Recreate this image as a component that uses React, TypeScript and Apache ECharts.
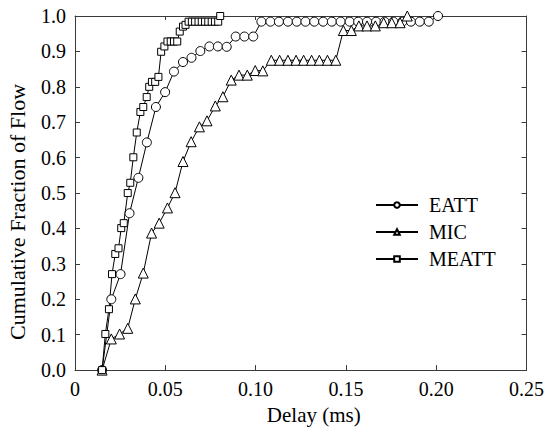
import React, { useEffect, useRef } from "react";
import * as echarts from "echarts";

const seriesNames = ["EATT", "MIC", "MEATT"];

const eattPoints: [number, number][] = [
  [0.015, 0.0], [0.0201, 0.2], [0.0252, 0.271], [0.0302, 0.443], [0.0351, 0.543],
  [0.0398, 0.643], [0.0448, 0.743], [0.0499, 0.785], [0.0548, 0.843], [0.0598, 0.87],
  [0.0645, 0.882], [0.0694, 0.901], [0.0744, 0.914], [0.0791, 0.914], [0.084, 0.913],
  [0.089, 0.942], [0.0938, 0.942], [0.0987, 0.942], [0.1032, 0.984], [0.1082, 0.984],
  [0.1129, 0.984], [0.1179, 0.984], [0.1228, 0.984], [0.1276, 0.984], [0.1325, 0.984],
  [0.1374, 0.984], [0.1422, 0.984], [0.1471, 0.984], [0.1521, 0.984], [0.1568, 0.984],
  [0.1617, 0.984], [0.1667, 0.984], [0.1714, 0.984], [0.1763, 0.984], [0.1813, 0.984],
  [0.186, 0.984], [0.1909, 0.984], [0.1959, 0.984], [0.201, 1.0],
];

const micPoints: [number, number][] = [
  [0.015, 0.0], [0.0201, 0.088], [0.0247, 0.102], [0.0292, 0.118], [0.0334, 0.201],
  [0.0378, 0.274], [0.0424, 0.387], [0.0466, 0.415], [0.0512, 0.458], [0.0554, 0.501],
  [0.0598, 0.589], [0.0643, 0.645], [0.0689, 0.687], [0.0731, 0.704], [0.0777, 0.746],
  [0.0819, 0.772], [0.0865, 0.819], [0.0908, 0.833], [0.0954, 0.833], [0.0998, 0.846],
  [0.104, 0.845], [0.1087, 0.875], [0.1133, 0.875], [0.1179, 0.875], [0.1224, 0.875],
  [0.1266, 0.875], [0.131, 0.875], [0.1353, 0.875], [0.1398, 0.875], [0.1444, 0.875],
  [0.1486, 0.959], [0.153, 0.959], [0.1572, 0.972], [0.1617, 0.972], [0.1663, 0.972],
  [0.1709, 0.981], [0.1754, 0.981], [0.18, 0.981], [0.184, 1.0],
];

const meattPoints: [number, number][] = [
  [0.015, 0.0], [0.0168, 0.102], [0.0188, 0.172], [0.0205, 0.271], [0.0223, 0.328],
  [0.0241, 0.344], [0.0256, 0.401], [0.027, 0.415], [0.0292, 0.5], [0.0306, 0.529],
  [0.0323, 0.601], [0.0342, 0.671], [0.0362, 0.729], [0.0378, 0.743], [0.0397, 0.771],
  [0.0411, 0.8], [0.0426, 0.814], [0.0444, 0.814], [0.0462, 0.828], [0.0477, 0.899],
  [0.0495, 0.914], [0.0512, 0.928], [0.053, 0.928], [0.0548, 0.928], [0.0566, 0.928],
  [0.058, 0.956], [0.0598, 0.97], [0.0612, 0.975], [0.0629, 0.984], [0.0647, 0.984],
  [0.0665, 0.984], [0.0684, 0.984], [0.0702, 0.984], [0.072, 0.984], [0.0738, 0.984],
  [0.0757, 0.984], [0.0775, 0.984], [0.0793, 0.984], [0.0804, 1.0],
];

const xTicks = [0, 0.05, 0.1, 0.15, 0.2, 0.25];
const yTicks = [0, 0.1, 0.2, 0.3, 0.4, 0.5, 0.6, 0.7, 0.8, 0.9, 1.0];

const FONT = "Liberation Serif";
const AXIS_COLOR = "#3a3a3a";

export default function App() {
  const ref = useRef<HTMLDivElement>(null);
  const ref2 = useRef<HTMLDivElement>(null);

  useEffect(() => {
    if (!ref.current || !ref2.current) return;
    const chart = echarts.init(ref.current, undefined, { renderer: "svg" });
    const spare = echarts.init(ref2.current, undefined, { renderer: "svg" });
    spare.setOption({ animation: false });

    const mkSeries = (name: string, data: [number, number][], symbol: string, size: number) => ({
      name,
      type: "line",
      data,
      symbol,
      symbolSize: size,
      showAllSymbol: true,
      lineStyle: { color: "#000", width: 1 },
      itemStyle: { color: "#fff", borderColor: "#000", borderWidth: 1 },
    });

    const baseX = {
      type: "value",
      min: xTicks[0],
      max: xTicks[xTicks.length - 1],
      interval: 0.05,
      splitLine: { show: false },
      axisLine: { show: true, onZero: false, lineStyle: { color: AXIS_COLOR, width: 1 } },
    };
    const baseY = {
      type: "value",
      min: yTicks[0],
      max: yTicks[yTicks.length - 1],
      interval: 0.1,
      splitLine: { show: false },
      axisLine: { show: true, onZero: false, lineStyle: { color: AXIS_COLOR, width: 1 } },
    };

    chart.setOption({
      animation: false,
      grid: { left: 75, right: 16, top: 16, bottom: 55, containLabel: false },
      legend: {
        data: seriesNames,
        orient: "vertical",
        left: 375,
        top: 195,
        padding: 0,
        itemWidth: 42,
        itemHeight: 7,
        itemGap: 7,
        textStyle: { fontFamily: FONT, fontSize: 20, color: "#000", padding: [0, 0, 0, 6] },
      },
      xAxis: [
        {
          ...baseX,
          position: "bottom",
          axisTick: { show: true, inside: true, length: 5, lineStyle: { color: AXIS_COLOR } },
          axisLabel: {
            show: true,
            margin: 9,
            fontFamily: FONT,
            fontSize: 20,
            color: "#000",
            formatter: (v: number) => (v === 0 ? "0" : v.toFixed(2)),
          },
          name: "Delay (ms)",
          nameLocation: "middle",
          nameGap: 26,
          nameTextStyle: { fontFamily: FONT, fontSize: 21, color: "#000", padding: [0, 0, 0, 26] },
        },
        {
          ...baseX,
          position: "top",
          axisTick: { show: true, inside: true, length: 4, lineStyle: { color: AXIS_COLOR } },
          axisLabel: { show: false },
        },
      ],
      yAxis: [
        {
          ...baseY,
          position: "left",
          axisTick: { show: true, inside: true, length: 5, lineStyle: { color: AXIS_COLOR } },
          axisLabel: {
            show: true,
            margin: 9,
            fontFamily: FONT,
            fontSize: 20,
            color: "#000",
            formatter: (v: number) => v.toFixed(1),
          },
        },
        {
          ...baseY,
          position: "right",
          axisTick: { show: true, inside: true, length: 5, lineStyle: { color: AXIS_COLOR } },
          axisLabel: { show: false },
        },
      ],
      graphic: [
        {
          type: "text",
          x: 17,
          y: 212,
          rotation: Math.PI / 2,
          style: {
            text: "Cumulative Fraction of Flow",
            fontFamily: FONT,
            fontSize: 22,
            fill: "#000",
            align: "center",
            verticalAlign: "middle",
          },
        },
      ],
      series: [
        mkSeries(seriesNames[0], eattPoints, "circle", 9),
        mkSeries(seriesNames[1], micPoints, "triangle", 10),
        mkSeries(seriesNames[2], meattPoints, "rect", 7),
      ],
    });

    return () => {
      chart.dispose();
      spare.dispose();
    };
  }, []);

  return (
    <div>
      <div ref={ref} style={{ position: "absolute", left: 0, top: 0, width: 547, height: 430 }} />
      <div ref={ref2} style={{ position: "absolute", left: 0, top: 0, width: 1, height: 1 }} />
    </div>
  );
}
